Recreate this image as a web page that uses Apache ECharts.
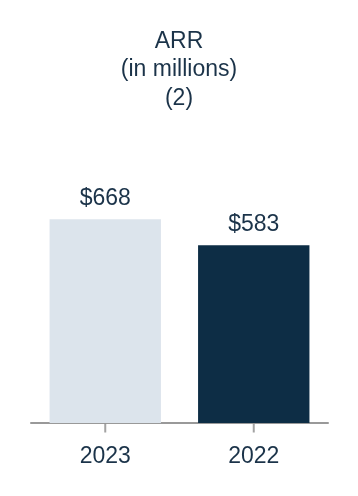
<!DOCTYPE html>
<html><head><meta charset="utf-8">
<script src="https://cdn.jsdelivr.net/npm/echarts@6/dist/echarts.min.js"></script>
<style>html,body{margin:0;padding:0;background:#fff}#c{width:358px;height:496px}</style>
</head><body><div id="c"></div>
<script>
const categories = ['2023', '2022'];
const arrValues = [668, 583];
const barColors = ['#dce4ec', '#0d2d45'];
const titleText = 'ARR\n(in millions)\n(2)';

const chart = echarts.init(document.getElementById('c'), null, {renderer: 'canvas'});
const textColor = '#1b3349';
chart.setOption({
  animation: false,
  title: {
    text: titleText,
    left: 'center',
    top: 22,
    textStyle: {fontFamily: 'Liberation Sans', fontSize: 23, fontWeight: 'normal', color: textColor, lineHeight: 28.5}
  },
  grid: {left: 31, right: 30, top: 118, bottom: 73, containLabel: false},
  xAxis: {
    type: 'category',
    data: categories,
    axisLine: {show: true, lineStyle: {color: '#999999', width: 2}},
    axisTick: {show: false},
    axisLabel: {fontFamily: 'Liberation Sans', fontSize: 23, color: textColor, margin: 22}
  },
  yAxis: {
    type: 'value', min: 0, max: 1000,
    axisLine: {show: false}, axisTick: {show: false}, axisLabel: {show: false},
    splitLine: {show: false}
  },
  series: [{
    type: 'bar',
    barWidth: '75%',
    data: arrValues.map((v, i) => ({value: v, itemStyle: {color: barColors[i]}})),
    label: {
      show: true, position: 'top', distance: 9,
      formatter: p => '$' + p.value,
      fontFamily: 'Liberation Sans', fontSize: 23, color: textColor
    }
  }, {
    type: 'scatter',
    silent: true,
    clip: false,
    z: 5,
    symbol: 'rect',
    symbolSize: [2, 9],
    symbolOffset: [0, 5],
    itemStyle: {color: '#8c8c8c'},
    data: categories.map(c => [c, 0])
  }]
});
</script></body></html>
